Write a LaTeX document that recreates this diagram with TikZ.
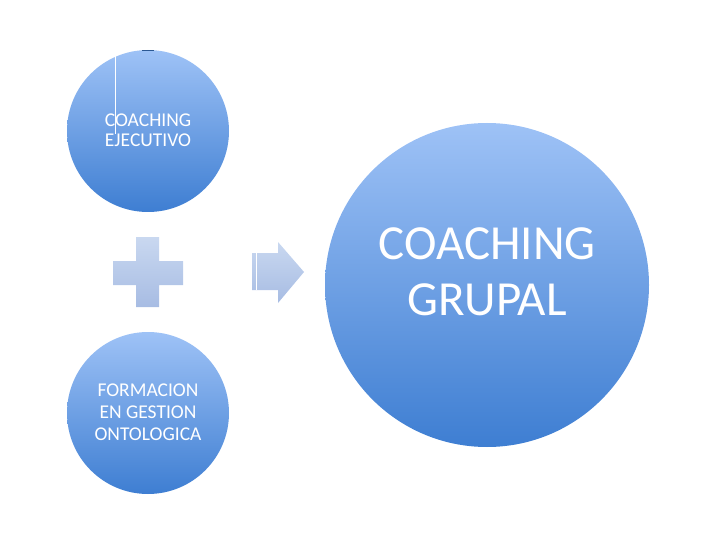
\documentclass[tikz,border=0pt]{standalone}
\usepackage{fontspec}
\setmainfont{Carlito}
\definecolor{ctop}{HTML}{9EC2F6}
\definecolor{cbot}{HTML}{3E7ED2}
\definecolor{stop}{HTML}{C9D8F0}
\definecolor{sbot}{HTML}{A7BCE3}
\begin{document}
\begin{tikzpicture}[x=1pt,y=-1pt,
  disc/.style={circle,top color=ctop,bottom color=cbot,draw=none,inner sep=0pt},
  label/.style={text=white,align=center,inner sep=0pt},
  light/.style={top color=stop,bottom color=sbot,draw=none}]
\useasboundingbox (0,0) rectangle (720,540);
\node[disc,minimum size=162pt] (ce) at (148,131) {};
\node[disc,minimum size=162pt] (fo) at (148,413) {};
\node[disc,minimum size=324pt] (cg) at (487,285) {};
\node[label,font=\fontsize{19.5}{19.5}\selectfont] (tce) at (148,130) {COACHING\\EJECUTIVO};
\node[label,font=\fontsize{19.5}{22}\selectfont] (tfo) at (148,412) {FORMACION\\EN GESTION\\ONTOLOGICA};
\node[label,font=\fontsize{49}{56}\selectfont] (tcg) at (487,272) {COACHING\\GRUPAL};
\draw[white,line width=0.8pt] (115,56) -- (115,134);
\draw[cbot!70!black,line width=0.8pt] (142,50) -- (154,50);
% plus
\shade[light] (136,237) -- (159,237) -- (159,261) -- (183,261) -- (183,285) -- (159,285) -- (159,307) -- (136,307) -- (136,285) -- (113,285) -- (113,261) -- (136,261) -- cycle;
% arrow
\shade[light] (252,253) -- (278,253) -- (278,242) -- (304,272) -- (278,303) -- (278,290) -- (252,290) -- cycle;
\draw[white,line width=0.8pt] (256,253) -- (256,290);
\end{tikzpicture}
\end{document}
